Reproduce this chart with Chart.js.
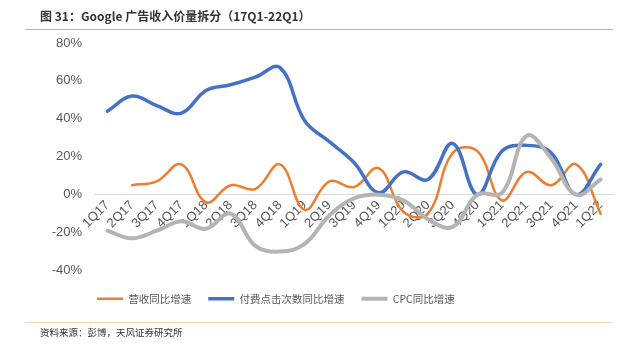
<!DOCTYPE html>
<html>
<head>
<meta charset="utf-8">
<script src="https://cdn.jsdelivr.net/npm/chart.js@4.4.1/dist/chart.umd.min.js"></script>
<style>
  html, body { margin: 0; padding: 0; background: #fff; }
  #wrap { position: relative; width: 643px; height: 353px; overflow: hidden; }
  #chartBox { position: absolute; left: 0; top: 0; width: 643px; height: 353px; }
  .title { position: absolute; left: 40px; top: 7px; font: bold 12px 'Noto Sans CJK SC', sans-serif; color: #333; white-space: nowrap; }
  .rule { position: absolute; left: 25px; width: 588px; height: 1px; }
  .source { position: absolute; left: 40px; top: 325px; font: 9.5px 'Noto Sans CJK SC', sans-serif; color: #333; white-space: nowrap; }
</style>
</head>
<body>
<div id="wrap">
  <div id="chartBox"><canvas id="adChart"></canvas></div>
  <div class="title">图 31：Google 广告收入价量拆分（17Q1-22Q1）</div>
  <div class="rule" style="top:29px;background:#f5a860;"></div>
  <div class="rule" style="top:322px;background:#fbd6b3;"></div>
  <div class="source">资料来源：彭博，天风证券研究所</div>
</div>
<script>
const quarters = ['1Q17', '2Q17', '3Q17', '4Q17', '1Q18', '2Q18', '3Q18', '4Q18', '1Q19', '2Q19', '3Q19',
                  '4Q19', '1Q20', '2Q20', '3Q20', '4Q20', '1Q21', '2Q21', '3Q21', '4Q21', '1Q22'];
const revenueGrowth = [null, 5, 7, 16, -4, 5, 3, 16, -8, 7, 4, 14, -9, -10, 22, 23, -3, 12, 5, 16, -10];
const clicksGrowth = [44, 52, 47, 43, 55, 58, 62, 67, 39, 28, 17, 1, 12, 8, 27, 0, 23, 26, 22, 0, 16];
const cpcGrowth = [-19, -23, -19, -14, -18, -10, -27, -30, -26, -11, -2, 0, -3, -13, -17, 0, 1, 31, 19, 0, 8];
const yTicks = [-40, -20, 0, 20, 40, 60, 80];

const tickFont = { family: "'Liberation Sans', Arial, sans-serif", size: 13 };

// move the legend to where the original has it
const legendPlace = {
    id: 'legendPlace',
    afterLayout(chart) {
        const lg = chart.legend;
        if (!lg || !lg.lineWidths) return;
        const pad = lg.options.labels.padding;
        const startX = (lg.left + pad + lg.right - lg.lineWidths[0]) / 2;
        const dx = 97 - startX;
        const dy = 6;
        lg.left += dx; lg.right += dx;
        lg.top += dy; lg.bottom += dy;
    }
};

const ctx = document.getElementById('adChart').getContext('2d');
new Chart(ctx, {
    type: 'line',
    data: {
        labels: quarters,
        datasets: [{
            label: '营收同比增速',
            data: revenueGrowth,
            borderColor: '#ed7d31',
            backgroundColor: '#ed7d31',
            borderWidth: 2.5,
            order: 3
        }, {
            label: '付费点击次数同比增速',
            data: clicksGrowth,
            borderColor: '#4472c4',
            backgroundColor: '#4472c4',
            borderWidth: 3.5,
            order: 2
        }, {
            label: 'CPC同比增速',
            data: cpcGrowth,
            borderColor: '#b4b4b4',
            backgroundColor: '#b4b4b4',
            borderWidth: 4,
            order: 1
        }]
    },
    options: {
        responsive: true,
        maintainAspectRatio: false,
        animation: false,
        layout: { padding: { left: 35, right: 30, top: 43, bottom: 45 } },
        elements: {
            point: { radius: 0, hoverRadius: 0 },
            line: { tension: 0.4, fill: false, borderCapStyle: 'round', borderJoinStyle: 'round' }
        },
        plugins: {
            legend: {
                position: 'bottom',
                labels: {
                    usePointStyle: true,
                    pointStyle: 'line',
                    pointStyleWidth: 26,
                    padding: 17,
                    color: '#595959',
                    font: { family: "'Noto Sans CJK SC', sans-serif", size: 10.5 },
                    sort: (a, b) => a.datasetIndex - b.datasetIndex
                }
            },
            tooltip: { enabled: false }
        },
        scales: {
            x: {
                position: { y: 0 },
                offset: true,
                grid: { display: false, drawTicks: false },
                border: { display: true, color: '#d9d9d9', width: 1 },
                ticks: { font: tickFont, color: '#595959', minRotation: 45, maxRotation: 45, autoSkip: false, padding: 3 },
                afterFit(scale) { scale.height = 0; }
            },
            y: {
                min: -40,
                max: 80,
                afterBuildTicks(scale) { scale.ticks = yTicks.map(v => ({ value: v })); },
                grid: { display: false, drawTicks: false },
                border: { display: false },
                ticks: { font: tickFont, color: '#595959', padding: 13, callback: v => v + '%' },
                afterFit(scale) { scale.width = 60; }
            }
        }
    },
    plugins: [legendPlace]
});
</script>
</body>
</html>
